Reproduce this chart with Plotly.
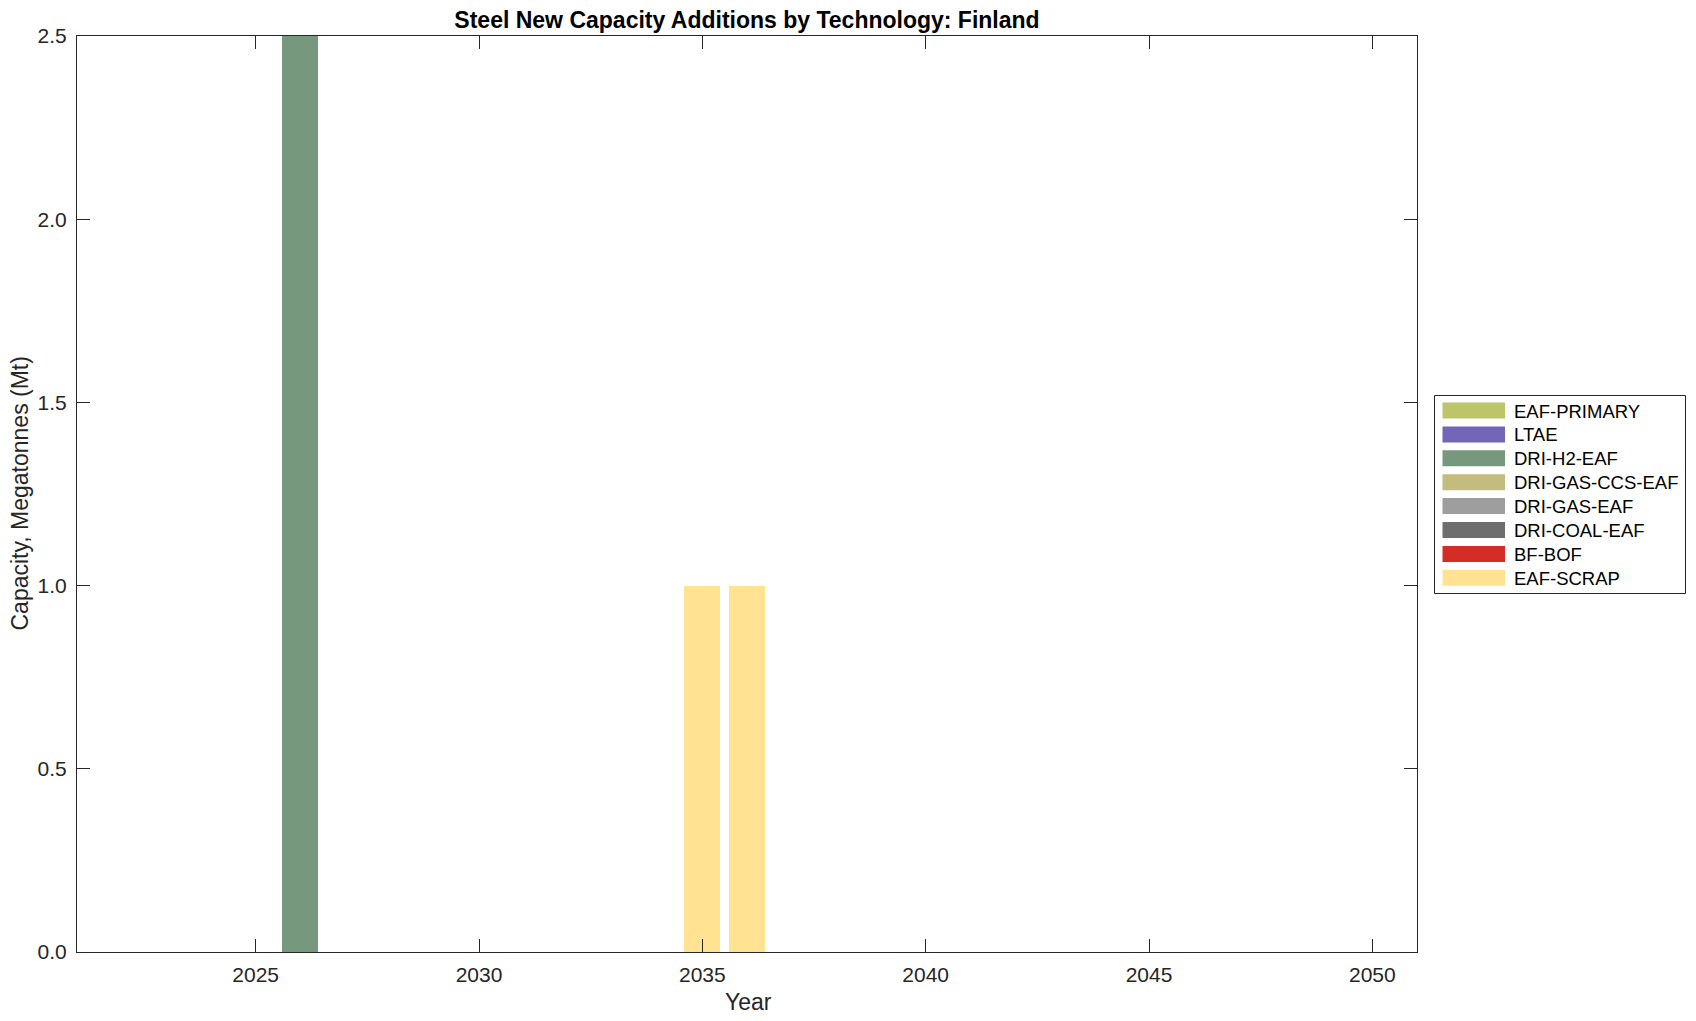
import plotly.graph_objects as go

# ---------------- data ----------------
years = list(range(2022, 2051))
technologies = ["EAF-SCRAP", "BF-BOF", "DRI-COAL-EAF", "DRI-GAS-EAF",
                "DRI-GAS-CCS-EAF", "DRI-H2-EAF", "LTAE", "EAF-PRIMARY"]
colors = ["#FFE393", "#D32D26", "#6E6E6E", "#9E9E9E",
          "#C4BB7E", "#76987C", "#7267B6", "#BDC56B"]

eaf_scrap = {2035: 1.0, 2036: 1.0}
bf_bof = {}
dri_coal_eaf = {}
dri_gas_eaf = {}
dri_gas_ccs_eaf = {}
dri_h2_eaf = {2026: 2.5}
ltae = {}
eaf_primary = {}
series = [eaf_scrap, bf_bof, dri_coal_eaf, dri_gas_eaf,
          dri_gas_ccs_eaf, dri_h2_eaf, ltae, eaf_primary]

x_ticks = [2025, 2030, 2035, 2040, 2045, 2050]
y_ticks = [0.0, 0.5, 1.0, 1.5, 2.0, 2.5]

# ---------------- layout geometry (page pixels) ----------------
O = 8  # default body margin of the html page
W, H = 1696 - O, 1021 - O
L, R, T, B = 77, 1417, 36, 952
PW, PH = R - L, B - T
FONT = "Liberation Sans, Arial, Helvetica, sans-serif"
AX = "#262626"


def px_x(x):
    return (x - L) / PW


def px_y(y):
    return (B - y) / PH


fig = go.Figure()
for name, col, vals in zip(technologies, colors, series):
    fig.add_trace(go.Bar(
        x=years, y=[vals.get(yr, 0.0) for yr in years], name=name,
        marker=dict(color=col, line=dict(width=0)), width=0.8,
        showlegend=False, hoverinfo="x+y+name"))

axis_common = dict(showline=True, linecolor=AX, linewidth=1, mirror="ticks",
                   ticks="inside", ticklen=13, tickwidth=1, tickcolor=AX,
                   showgrid=False, zeroline=False,
                   tickfont=dict(family=FONT, size=21, color=AX))

fig.update_layout(
    width=W, height=H, barmode="stack", bargap=0,
    plot_bgcolor="white", paper_bgcolor="white",
    margin=dict(l=L - O, r=W - (R - O), t=T - O, b=H - (B - O), autoexpand=False),
    xaxis=dict(range=[2021, 2051], tickvals=x_ticks,
               ticklabelstandoff=4, **axis_common),
    yaxis=dict(range=[0, 2.5], tickvals=y_ticks, tickformat=".1f",
               ticklabelstandoff=5, **axis_common),
    title=dict(text="<b>Steel New Capacity Additions by Technology: Finland</b>",
               x=0.5, xref="paper", xanchor="center",
               y=1 - (19.5 - O) / H, yref="container", yanchor="middle",
               font=dict(family=FONT, size=23, color="black")),
    font=dict(family=FONT, color=AX),
)

# axis titles
fig.add_annotation(text="Year", xref="paper", yref="paper",
                   x=px_x(748), y=px_y(1002), xanchor="center", yanchor="middle",
                   showarrow=False, font=dict(family=FONT, size=23, color=AX))
fig.add_annotation(text="Capacity, Megatonnes (Mt)", xref="paper", yref="paper",
                   x=px_x(19.5), y=px_y(494), xanchor="center", yanchor="middle",
                   textangle=-90, showarrow=False,
                   font=dict(family=FONT, size=23, color=AX))

# legend (drawn as box + swatches, top entry = last stacked series)
lx0, lx1, ly0, ly1 = 1434.5, 1685.5, 395.5, 593.5
fig.add_shape(type="rect", xref="paper", yref="paper",
              x0=px_x(lx0), x1=px_x(lx1), y0=px_y(ly0), y1=px_y(ly1),
              line=dict(color=AX, width=1), fillcolor="white", layer="above")
for i, (name, col) in enumerate(zip(technologies[::-1], colors[::-1])):
    cy = 410.5 + 23.9 * i
    fig.add_shape(type="rect", xref="paper", yref="paper",
                  x0=px_x(1442.5), x1=px_x(1505), y0=px_y(cy - 8), y1=px_y(cy + 8),
                  line=dict(width=0), fillcolor=col, layer="above")
    fig.add_annotation(text=name, xref="paper", yref="paper",
                       x=px_x(1512), y=px_y(cy + 0.5), xanchor="left", yanchor="middle",
                       showarrow=False, font=dict(family=FONT, size=18.5, color="black"))

fig.write_html("out.html")
